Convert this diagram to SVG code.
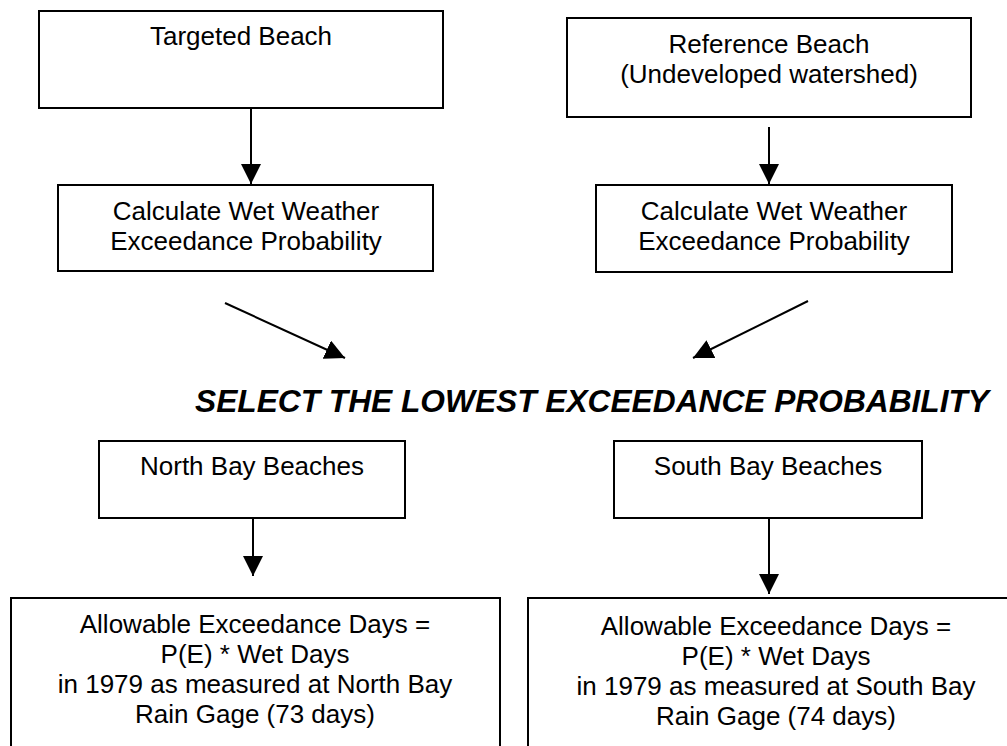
<svg xmlns="http://www.w3.org/2000/svg" width="1007" height="746" viewBox="0 0 1007 746">
<style>
.box{fill:#fff;stroke:#000;stroke-width:2}
.t{font-family:"Liberation Sans",Arial,sans-serif;font-size:26px;fill:#000;text-anchor:middle}
.title{font-family:"Liberation Sans",Arial,sans-serif;font-size:31.7px;font-weight:bold;font-style:italic;fill:#000}
.c{stroke:#000;stroke-width:2;fill:none;marker-end:url(#ah)}
</style>
<defs>
<marker id="ah" viewBox="0 0 20 20" refX="20" refY="10" markerUnits="userSpaceOnUse" markerWidth="20" markerHeight="20" orient="auto">
<path d="M0,0 L20,10 L0,20 z" fill="#000"/>
</marker>
</defs>
<rect width="1007" height="746" fill="#fff"/>
<g id="targeted">
<rect class="box" x="39" y="11" width="404" height="97"/>
<text class="t" x="241" y="45">Targeted Beach</text>
</g>
<g id="reference">
<rect class="box" x="567" y="18" width="404" height="99"/>
<text class="t" x="769" y="53">Reference Beach</text>
<text class="t" x="769" y="83">(Undeveloped watershed)</text>
</g>
<g id="calc-left">
<rect class="box" x="58" y="185" width="375" height="86"/>
<text class="t" x="246" y="220">Calculate Wet Weather</text>
<text class="t" x="246" y="250">Exceedance Probability</text>
</g>
<g id="calc-right">
<rect class="box" x="596" y="185" width="356" height="87"/>
<text class="t" x="774" y="220">Calculate Wet Weather</text>
<text class="t" x="774" y="250">Exceedance Probability</text>
</g>
<g id="select">
<text class="title" x="195" y="412">SELECT THE LOWEST EXCEEDANCE PROBABILITY</text>
</g>
<g id="north">
<rect class="box" x="99" y="441" width="306" height="77"/>
<text class="t" x="252" y="475">North Bay Beaches</text>
</g>
<g id="south">
<rect class="box" x="614" y="441" width="308" height="77"/>
<text class="t" x="768" y="475">South Bay Beaches</text>
</g>
<g id="allow-north">
<rect class="box" x="11" y="598" width="489" height="160"/>
<text class="t" x="255" y="633">Allowable Exceedance Days =</text>
<text class="t" x="255" y="663">P(E) * Wet Days</text>
<text class="t" x="255" y="693">in 1979 as measured at North Bay</text>
<text class="t" x="255" y="723">Rain Gage (73 days)</text>
</g>
<g id="allow-south">
<rect class="box" x="528" y="598" width="492" height="160"/>
<text class="t" x="776" y="635">Allowable Exceedance Days =</text>
<text class="t" x="776" y="665">P(E) * Wet Days</text>
<text class="t" x="776" y="695">in 1979 as measured at South Bay</text>
<text class="t" x="776" y="725">Rain Gage (74 days)</text>
</g>
<g id="connectors">
<line class="c" x1="251" y1="108" x2="251" y2="184"/>
<line class="c" x1="769" y1="127" x2="769" y2="184"/>
<line class="c" x1="225" y1="303" x2="345" y2="358"/>
<line class="c" x1="808" y1="301" x2="693" y2="358"/>
<line class="c" x1="253" y1="518" x2="253" y2="576"/>
<line class="c" x1="769" y1="518" x2="769" y2="594"/>
</g>
</svg>
